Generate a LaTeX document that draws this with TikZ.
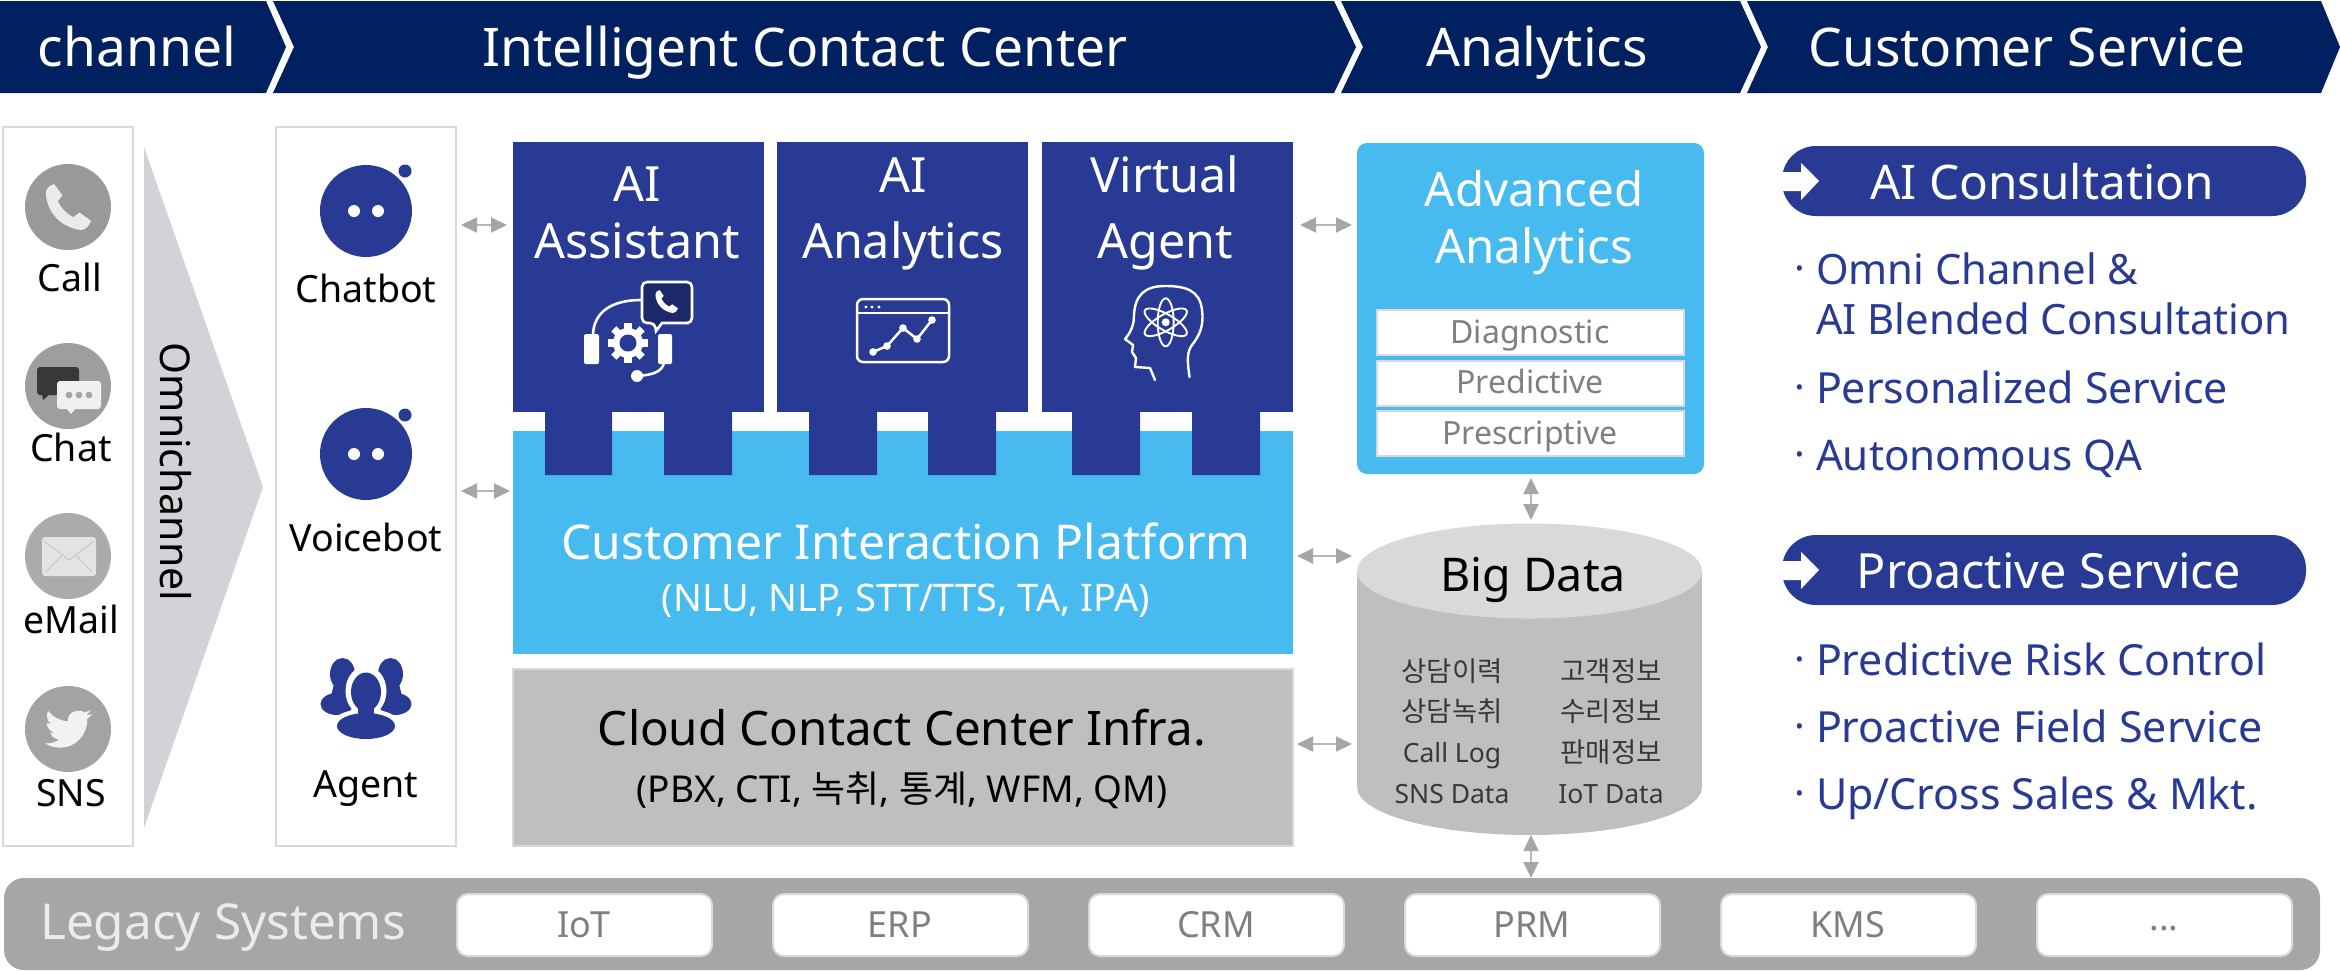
\documentclass[tikz,border=0pt]{standalone}
\usepackage{fontspec}
\setmainfont{Noto Sans}
\newfontfamily\kr{Noto Sans CJK KR}
\usetikzlibrary{arrows.meta,calc}
\definecolor{navy}{HTML}{002060}
\definecolor{royal}{HTML}{283A94}
\definecolor{sky}{HTML}{47BBF0}
\definecolor{linegray}{HTML}{D9D9D9}
\definecolor{midgray}{HTML}{A6A6A6}
\definecolor{cyl}{HTML}{BFBFBF}
\definecolor{softtext}{HTML}{7F7F7F}
\definecolor{tri}{HTML}{D2D2D8}
\newcommand\fsz[1]{\fontsize{#1pt}{#1pt}\selectfont}
\newcommand\phoneicon[4]{% x y size color
  \begin{scope}[shift={(#1,#2)},x=#3pt,y=-#3pt]
  \fill[#4] (0.02,0.18) .. controls (0.02,0.1) and (0.1,0.03) .. (0.2,0) -- (0.38,0.25) -- (0.28,0.37)
    .. controls (0.33,0.5) and (0.47,0.65) .. (0.62,0.72) -- (0.75,0.62) -- (1,0.8)
    .. controls (0.95,0.92) and (0.88,1) .. (0.78,1) .. controls (0.35,0.95) and (0.02,0.6) .. (0.02,0.18) -- cycle;
  \end{scope}}
\tikzset{
  x=1pt,y=1pt,
  txt/.style={inner sep=0pt,outer sep=0pt,anchor=base},
  rect/.style={inner sep=0pt,outer sep=0pt,anchor=north west},
  panel/.style={rect,draw=linegray,line width=2pt,fill=white},
  card/.style={rect,fill=royal},
  option/.style={rect,draw=linegray,line width=2pt,fill=white},
  legbox/.style={rect,draw=linegray,line width=2pt,fill=white,rounded corners=11pt},
  dbl/.style={draw=linegray!85!black,line width=2pt,{Triangle[length=16pt,width=15pt,color=midgray]}-{Triangle[length=16pt,width=15pt,color=midgray]}},
  headt/.style={txt,text=white,font=\fsz{53.3}},
  white46/.style={txt,text=white,font=\fsz{48.5}},
  chan/.style={txt,font=\fsz{37.5}},
  gray34/.style={txt,text=softtext,font=\fsz{32}},
  leg/.style={txt,text=softtext,font=\fsz{36}},
  krt/.style={txt,text=black!78,font=\kr\fsz{27.5}},
  krl/.style={txt,text=black!78,font=\fsz{26.5}},
  itemt/.style={txt,text=royal,font=\fsz{42.9},anchor=base west},
  dott/.style={txt,text=royal,font=\fsz{40}},
}
\begin{document}
\begin{tikzpicture}[y=-1pt]
\useasboundingbox (0,0) rectangle (2340,970);
% header
\fill[navy] (0,1) -- (266,1) -- (286,47) -- (266,93) -- (0,93) -- cycle;
\fill[navy] (273,1) -- (1334,1) -- (1356,47) -- (1334,93) -- (273,93) -- (294,47) -- cycle;
\fill[navy] (1341,1) -- (1740,1) -- (1761,47) -- (1740,93) -- (1341,93) -- (1363,47) -- cycle;
\fill[navy] (1747,1) -- (2321,1) -- (2340,47) -- (2321,93) -- (1747,93) -- (1768,47) -- cycle;
\node[headt] (hchan) at (137,66) {channel};
\node[headt] (hicc) at (805,66) {Intelligent Contact Center};
\node[headt] (hana) at (1537,66) {Analytics};
\node[headt] (hcs) at (2027,66) {Customer Service};
% channel panel
\node[panel,minimum width=130pt,minimum height=719pt] (chanbox) at (3,127) {};
\fill[tri] (144,147) -- (263,487) -- (144,828) -- cycle;
\node[txt,font=\fsz{41},rotate=-90] (omni) at (160,472) {Omnichannel};
% Call
\fill[black!40] (68,207) circle (43);
\phoneicon{45}{184}{46}{white!92!black}
\node[chan] (call) at (70,291) {Call};
% Chat
\fill[black!38] (68,386) circle (43);
\fill[black!78] (37,367) [rounded corners=3pt] rectangle (79,395);
\fill[black!78] (42,394) -- (50,394) -- (43,400) -- cycle;
\fill[black!6] (57,381) [rounded corners=3pt] rectangle (101,409);
\fill[black!6] (66,408) -- (76,408) -- (71,414) -- cycle;
\fill[black!35] (69,395) circle (3.4) (79,395) circle (3.4) (89,395) circle (3.4);
\node[chan] (chat) at (71,461) {Chat};
% eMail
\fill[black!33] (68,556) circle (43);
\fill[black!11] (42,537) [rounded corners=3pt] rectangle (96,576);
\draw[black!22,line width=1pt] (44,541) -- (69,560) -- (94,541) (46,572) -- (62,555) (92,572) -- (76,555);
\node[chan] (email) at (71,633) {eMail};
% SNS
\fill[black!36] (68,729) circle (43);
\begin{scope}[shift={(45,705)},x=1.96pt,y=-1.96pt]
\fill[white!95!black] (23.95,4.57) -- (21.13,5.35) -- (23.29,2.62) -- (20.16,3.81)
 .. controls (18.2,1.9) and (11,3) .. (11.78,8.29)
 .. controls (7.69,8.1) and (4.07,6.13) .. (1.64,3.16)
 .. controls (1.2,3.9) and (0.97,4.75) .. (0.97,5.64)
 .. controls (0.97,7.35) and (1.84,8.85) .. (3.16,9.73)
 .. controls (2.35,9.71) and (1.6,9.5) .. (0.93,9.12) -- (0.93,9.18)
 .. controls (0.93,11.55) and (2.6,13.55) .. (4.88,14)
 .. controls (4.15,14.2) and (3.4,14.23) .. (2.67,14.09)
 .. controls (3.3,16.1) and (5.1,17.45) .. (7.27,17.5)
 .. controls (5.6,18.8) and (3.45,19.6) .. (1.17,19.6)
 .. controls (0.78,19.6) and (0.39,19.58) .. (0,19.54)
 .. controls (2.2,20.9) and (4.8,21.75) .. (7.56,21.75)
 .. controls (16.6,21.75) and (21.56,14.25) .. (21.56,7.76)
 .. controls (21.56,7.55) and (21.56,7.34) .. (21.54,7.13)
 .. controls (22.5,6.4) and (23.35,5.57) .. (24,4.59) -- cycle;
\end{scope}
\node[chan] (sns) at (71,806) {SNS};
% bots panel
\node[panel,minimum width=180pt,minimum height=719pt] (bots) at (276,127) {};
\fill[royal] (366,211) circle (46) (405,171) circle (6.5);
\fill[white] (354,211) circle (6) (378,211) circle (6);
\node[chan] (chatbot) at (366,302) {Chatbot};
\fill[royal] (366,454) circle (46) (405,415) circle (6.5);
\fill[white] (354,454) circle (6) (378,454) circle (6);
\node[chan] (voicebot) at (366,551) {Voicebot};
% agent icon
\fill[royal] (342.5,674) ellipse [x radius=12.5, y radius=16];
\fill[royal] (390.5,674) ellipse [x radius=12.5, y radius=16];
\fill[royal] (337,704) ellipse [x radius=16.5, y radius=11];
\fill[royal] (395,704) ellipse [x radius=16.5, y radius=11];
\fill[royal] (334,684) -- (351,684) -- (351,703) -- (330,700) -- cycle;
\fill[royal] (399,684) -- (382,684) -- (382,703) -- (403,700) -- cycle;
\fill[white] (366,691) ellipse [x radius=20.5, y radius=25];
\fill[white] (366,724) ellipse [x radius=34, y radius=15];
\fill[royal] (366,692) ellipse [x radius=15, y radius=19.5];
\fill[royal] (358,702) rectangle (374,722);
\fill[royal] (366,726) ellipse [x radius=29, y radius=13];
\node[chan] (agent) at (366,797) {Agent};
% platform + cards
\node[rect,fill=sky,minimum width=780pt,minimum height=223pt] (platform) at (513,431) {};
\node[card,minimum width=251pt,minimum height=270pt] (assist) at (513,142) {};
\node[card,minimum width=251pt,minimum height=270pt] (aian) at (777,142) {};
\node[card,minimum width=251pt,minimum height=270pt] (virtual) at (1042,142) {};
\fill[royal] (545,412) rectangle (612,475) (664,412) rectangle (732,475)
  (809,412) rectangle (877,475) (928,412) rectangle (996,475)
  (1072,412) rectangle (1140,475) (1192,412) rectangle (1260,475);
\node[white46] (t1a) at (637,201) {AI};
\node[white46] (t1b) at (637,258) {Assistant};
\node[white46] (t2a) at (903,192) {AI};
\node[white46] (t2b) at (903,258) {Analytics};
\node[white46] (t3a) at (1165,192) {Virtual};
\node[white46] (t3b) at (1165,258) {Agent};
% headset icon
\draw[white,line width=2.6pt] (593,336) .. controls (593,312) and (612,300) .. (641,300);
\fill[white,rounded corners=1.5pt] (584,334) rectangle (599,364) (658,334) rectangle (672,364);
\draw[white,line width=2.6pt] (664,362) .. controls (663,372) and (652,375) .. (637,376);
\fill[white] (637,376) circle (6);
\fill[white] (628,343) circle (15);
\foreach \a in {0,45,...,315} \fill[white,rotate around={\a:(628,343)}] (624.4,323) rectangle (631.6,330);
\fill[royal] (628,343) circle (8.5);
\draw[white,line width=2.6pt,fill=royal!70!black] (655,323) -- (656,331) -- (662,323) -- (689,323) [rounded corners=5pt] -- (692,323) -- (692,282) -- (642,282) -- (642,323) -- cycle;
\phoneicon{655}{290}{23}{white}
% analytics icon
\draw[white,line width=2.5pt,rounded corners=6pt] (857,299) rectangle (949,362);
\draw[white,line width=2.5pt] (857,313) -- (949,313);
\fill[white] (866,307) circle (1.6) (872,307) circle (1.6) (879,307) circle (1.6);
\draw[white,line width=2.5pt] (873,352) -- (887,346) -- (903,328) -- (917,339) -- (932,320);
\fill[white] (873,352) circle (3.8) (887,346) circle (3.8) (903,328) circle (3.8) (917,339) circle (3.8) (932,320) circle (3.8);
% head icon
\draw[white,line width=2.4pt,line join=round,line cap=round] (1189.5,377) .. controls (1187,360) and (1187,352) .. (1192,345)
 .. controls (1200,335) and (1204,325) .. (1202,310) .. controls (1200,290) and (1185,286) .. (1165,286)
 .. controls (1145,286) and (1135,295) .. (1134,315) .. controls (1134,325) and (1131,332) .. (1125,339)
 -- (1133,345) -- (1132,352) -- (1136,358) -- (1135,367) -- (1150,368) -- (1155,380);
\begin{scope}[white,line width=1.9pt]
\draw (1165.7,322.3) ellipse [x radius=8, y radius=24];
\draw[rotate around={60:(1165.7,322.3)}] (1165.7,322.3) ellipse [x radius=8, y radius=24];
\draw[rotate around={-60:(1165.7,322.3)}] (1165.7,322.3) ellipse [x radius=8, y radius=24];
\end{scope}
\fill[white] (1165.7,322.3) circle (4);
% platform text
\node[txt,text=white,font=\fsz{48}] (cip) at (906,559) {Customer Interaction Platform};
\node[txt,text=white,font=\fsz{38}] (cip2) at (906,611) {(NLU, NLP, STT/TTS, TA, IPA)};
% cloud
\node[rect,fill=cyl,draw=linegray,line width=2pt,minimum width=780pt,minimum height=177pt] (cloud) at (513,669) {};
\node[txt,font=\fsz{47.5}] (ccc) at (902,745) {Cloud Contact Center Infra.};
\node[txt,font=\fsz{37}] (ccc2) at (902,802) {(PBX, CTI, {\kr 녹취}, {\kr 통계}, WFM, QM)};
% advanced
\node[rect,fill=sky,rounded corners=10pt,minimum width=347pt,minimum height=331pt] (adv) at (1357,143) {};
\node[txt,text=white,font=\fsz{47.5}] (ad1) at (1534,206) {Advanced};
\node[txt,text=white,font=\fsz{47.5}] (ad2) at (1534,263) {Analytics};
\node[option,minimum width=307pt,minimum height=45pt] (o1) at (1377,310) {};
\node[option,minimum width=307pt,minimum height=45pt] (o2) at (1377,361) {};
\node[option,minimum width=307pt,minimum height=45pt] (o3) at (1377,411) {};
\node[gray34] (o1t) at (1530,343) {Diagnostic};
\node[gray34] (o2t) at (1530,393) {Predictive};
\node[gray34] (o3t) at (1530,444) {Prescriptive};
% big data
\node[rect,minimum width=345pt,minimum height=312pt] (bigdata) at (1357,523) {};
\fill[cyl] (1357,571) -- (1357,787) .. controls (1357,813.5) and (1434,835) .. (1529.5,835) .. controls (1625,835) and (1702,813.5) .. (1702,787) -- (1702,571) -- cycle;
\fill[linegray] (1529.5,571) ellipse [x radius=172.5, y radius=47.5];
\node[txt,font=\fsz{46.5}] (bdt) at (1533,591) {Big Data};
\node[krt] (k1) at (1452,681) {상담이력};
\node[krt] (k2) at (1452,721) {상담녹취};
\node[krl] (k3) at (1452,762) {Call Log};
\node[krl] (k4) at (1452,803) {SNS Data};
\node[krt] (k5) at (1611,681) {고객정보};
\node[krt] (k6) at (1611,721) {수리정보};
\node[krt] (k7) at (1611,762) {판매정보};
\node[krl] (k8) at (1611,803) {IoT Data};
% legacy
\node[rect,fill=midgray,rounded corners=20pt,minimum width=2316pt,minimum height=92pt] (legacy) at (4,878) {};
\node[txt,text=white!92!black,font=\fsz{49.5}] (legt) at (223,939) {Legacy Systems};
\node[legbox,minimum width=255pt,minimum height=62pt] (l1) at (457,894) {};
\node[legbox,minimum width=255pt,minimum height=62pt] (l2) at (773,894) {};
\node[legbox,minimum width=255pt,minimum height=62pt] (l3) at (1089,894) {};
\node[legbox,minimum width=255pt,minimum height=62pt] (l4) at (1405,894) {};
\node[legbox,minimum width=255pt,minimum height=62pt] (l5) at (1721,894) {};
\node[legbox,minimum width=255pt,minimum height=62pt] (l6) at (2037,894) {};
\node[leg] (l1t) at (584,937) {IoT};
\node[leg] (l2t) at (900,937) {ERP};
\node[leg] (l3t) at (1216,937) {CRM};
\node[leg] (l4t) at (1532,937) {PRM};
\node[leg] (l5t) at (1848,937) {KMS};
\node[leg] (l6t) at (2164,930) {...};
% right pills
\fill[royal,rounded corners=34pt] (1782,146) rectangle (2306,216);
\fill[royal,rounded corners=34pt] (1782,535) rectangle (2306,605);
\fill[white] (1780,172) -- (1801,172) -- (1801,163) -- (1819,181) -- (1801,200) -- (1801,191) -- (1780,191) -- cycle;
\fill[white] (1780,561) -- (1801,561) -- (1801,552) -- (1819,570) -- (1801,589) -- (1801,580) -- (1780,580) -- cycle;
\node[txt,text=white,font=\fsz{47.7}] (p1) at (2042,199) {AI Consultation};
\node[white46] (p2) at (2049,588) {Proactive Service};
\node[itemt,font=\fsz{41.8}] (i1) at (1816,284) {Omni Channel \&};
\node[itemt,font=\fsz{41.8}] (i1b) at (1816,334) {AI Blended Consultation};
\node[itemt] (i2) at (1816,403) {Personalized Service};
\node[itemt,font=\fsz{42.2}] (i3) at (1816,470) {Autonomous QA};
\node[itemt] (i4) at (1816,675) {Predictive Risk Control};
\node[itemt] (i5) at (1816,742) {Proactive Field Service};
\node[itemt] (i6) at (1816,809) {Up/Cross Sales \& Mkt.};
\node[dott] (d1) at (1800,282) {·};
\node[dott] (d2) at (1800,401) {·};
\node[dott] (d3) at (1800,468) {·};
\node[dott] (d4) at (1800,673) {·};
\node[dott] (d5) at (1800,740) {·};
\node[dott] (d6) at (1800,807) {·};
% connectors
\draw[dbl,shorten <=5pt,shorten >=6pt] (bots.east |- 0,225) -- (assist.west |- 0,225);
\draw[dbl,shorten <=5pt,shorten >=3pt] (bots.east |- 0,491) -- (platform.west |- 0,491);
\draw[dbl,shorten <=7pt,shorten >=5pt] (virtual.east |- 0,225) -- (adv.west |- 0,225);
\draw[dbl,shorten <=4pt,shorten >=5pt] (platform.east |- 0,556) -- (bigdata.west |- 0,556);
\draw[dbl,shorten <=4pt,shorten >=5pt] (cloud.east |- 0,744) -- (bigdata.west |- 0,744);
\draw[dbl,shorten <=4pt,shorten >=3pt] (1531,0 |- adv.south) -- (1531,0 |- bigdata.north);
\draw[dbl] (1531,0 |- bigdata.south) -- (1531,0 |- legacy.north);
\end{tikzpicture}
\end{document}
